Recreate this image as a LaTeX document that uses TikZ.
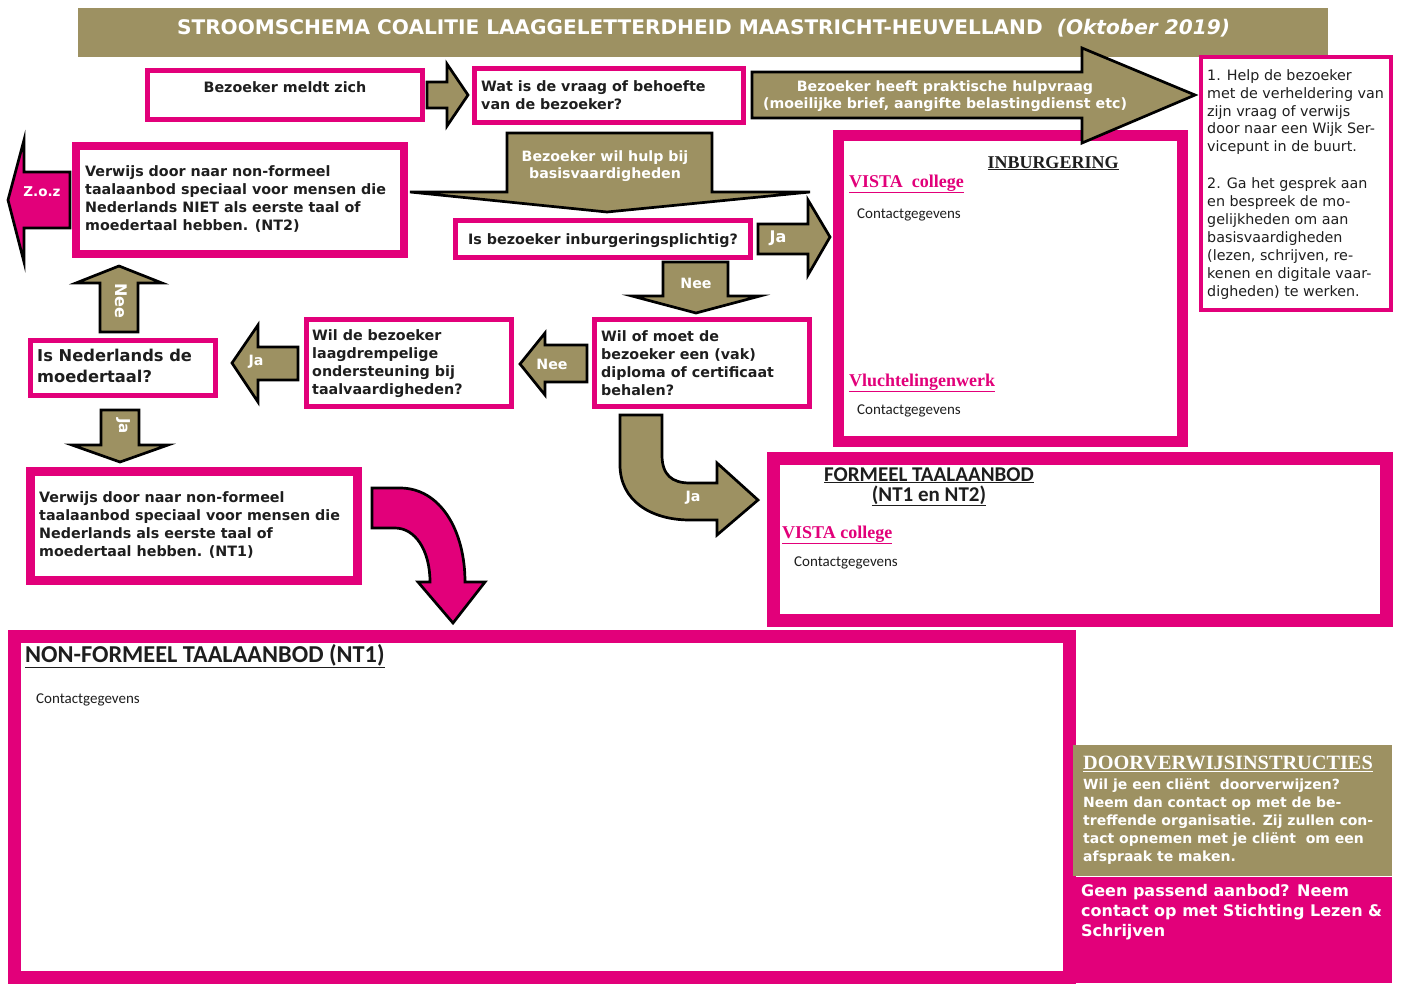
\documentclass[tikz,border=0pt]{standalone}
\usepackage{fontspec}
\setmainfont{DejaVu Sans}
\newfontfamily\calfont{Carlito}
\newfontfamily\serfont{Liberation Serif}
\definecolor{mag}{RGB}{226,0,122}
\definecolor{olv}{RGB}{157,145,98}
\definecolor{ink}{RGB}{30,30,30}
\begin{document}
\begin{tikzpicture}[x=1pt,y=-1pt,
  pbox/.style={draw=mag, fill=white, inner sep=0pt, rectangle},
  oarrow/.style={fill=olv, draw=black, line width=2.7pt},
  marrow/.style={fill=mag, draw=black, line width=2.7pt},
  btxt/.style={inner sep=0pt, align=left, anchor=north west, text=ink, font=\bfseries\fontsize{14.3}{18}\selectfont},
  wtxt/.style={inner sep=0pt, text=white, font=\bfseries\fontsize{14.2}{17.5}\selectfont},
  ctxt/.style={inner sep=0pt, anchor=base west, text=ink, font=\calfont\fontsize{15}{18}\selectfont},
  ltxt/.style={inner sep=0pt, anchor=base west, text=mag, font=\serfont\bfseries\fontsize{18}{20}\selectfont},
]
\fill[white] (0,0) rectangle (1403,983);
\useasboundingbox (0,0) rectangle (1403,983);

% title
\node[fill=olv, minimum width=1250pt, minimum height=49pt, inner sep=0pt] (titlebar) at (703,32.5) {};
\node[inner sep=0pt, anchor=base, text=white, font=\bfseries\fontsize{20.1}{22}\selectfont] (title) at (703.5,34.5) {STROOMSCHEMA COALITIE LAAGGELETTERDHEID MAASTRICHT-HEUVELLAND\hspace{0.7em}\textit{(Oktober 2019)}};

% top row
\node[pbox, line width=5pt, minimum width=275pt, minimum height=49pt] (meldt) at (285,95) {};
\node[btxt, anchor=base] (meldtT) at (285,92) {Bezoeker meldt zich};
\draw[oarrow] (427,82) -- (447,82) -- (447,64) -- (468,95) -- (447,126) -- (447,108) -- (427,108) -- cycle;

\node[pbox, line width=5pt, minimum width=269pt, minimum height=54pt] (vraag) at (609,95.5) {};
\node[btxt] (vraagT) at (481,80.4) {Wat is de vraag of behoefte\\van de bezoeker?};

% right help box
\node[pbox, line width=4pt, minimum width=190pt, minimum height=253pt] (help) at (1296,183.5) {};
\node[inner sep=0pt, anchor=north west, align=left, text=ink, font=\fontsize{14.3}{17.9}\selectfont] (helpT) at (1207,69.2) {1. Help de bezoeker\\met de verheldering van\\zijn vraag of verwijs\\door naar een Wijk Ser-\\vicepunt in de buurt.\\[19pt]2. Ga het gesprek aan\\en bespreek de mo-\\gelijkheden om aan\\basisvaardigheden\\(lezen, schrijven, re-\\kenen en digitale vaar-\\digheden) te werken.};

% INBURGERING box
\node[pbox, line width=11pt, minimum width=344pt, minimum height=306pt] (inburg) at (1010.5,288.5) {};
\node[inner sep=0pt, anchor=base, font=\serfont\bfseries\fontsize{18}{20}\selectfont, text=ink] (inburgT) at (1053,168) {\underline{INBURGERING}};
\node[ltxt] (vista1) at (849,187) {\underline{VISTA\ \ college}};
\node[ctxt] (cg1) at (857,218) {Contactgegevens};
\node[ltxt] (vlucht) at (849,386) {\underline{Vluchtelingenwerk}};
\node[ctxt] (cg2) at (857,414) {Contactgegevens};

% big practical arrow
\draw[oarrow] (752,72) -- (1082,72) -- (1082,48) -- (1195,95) -- (1082,143) -- (1082,118) -- (752,118) -- cycle;
\node[wtxt, align=center, anchor=north] (praktT) at (945,80.2) {Bezoeker heeft praktische hulpvraag\\(moeilijke brief, aangifte belastingdienst etc)};

% NT2 box and Z.o.z
\draw[marrow] (70,172) -- (24,172) -- (24,140) -- (8,200) -- (24,262) -- (24,228) -- (70,228) -- cycle;
\node[wtxt, font=\bfseries\fontsize{13.5}{16}\selectfont] (zoz) at (42,192) {Z.o.z};
\node[pbox, line width=8pt, minimum width=328pt, minimum height=108pt] (nt2) at (240,200) {};
\node[btxt] (nt2T) at (85,165) {Verwijs door naar non-formeel\\taalaanbod speciaal voor mensen die\\Nederlands NIET als eerste taal of\\moedertaal hebben. (NT2)};

% basisvaardigheden arrow
\draw[oarrow] (507,133) -- (712,133) -- (712,192) -- (810,192) -- (607,212) -- (410,192) -- (507,192) -- cycle;
\node[wtxt, align=center, anchor=north] (basisT) at (605,150.2) {Bezoeker wil hulp bij\\basisvaardigheden};

% inburgeringsplichtig
\node[pbox, line width=5pt, minimum width=295pt, minimum height=37pt] (inb) at (603,239) {};
\node[btxt, anchor=base] (inbT) at (603,244) {Is bezoeker inburgeringsplichtig?};
\draw[oarrow] (758,224) -- (808,224) -- (808,200) -- (830,237) -- (808,275) -- (808,254) -- (758,254) -- cycle;
\node[wtxt, anchor=base, font=\bfseries\fontsize{16}{18}\selectfont] (ja1) at (778,242) {Ja};
\draw[oarrow] (663,262) -- (728,262) -- (728,296) -- (760,296) -- (696,313) -- (632,296) -- (663,296) -- cycle;
\node[wtxt, anchor=base] (nee1) at (696,288) {Nee};

% diploma
\node[pbox, line width=5pt, minimum width=215pt, minimum height=87pt] (dipl) at (702,363) {};
\node[btxt] (diplT) at (601,330) {Wil of moet de\\bezoeker een (vak)\\diploma of certificaat\\behalen?};
\draw[oarrow] (587,345) -- (545,345) -- (545,333) -- (520,364) -- (545,395) -- (545,382) -- (587,382) -- cycle;
\node[wtxt, anchor=base] (nee2) at (552,369) {Nee};

% laagdrempelig
\node[pbox, line width=5pt, minimum width=205pt, minimum height=87pt] (laag) at (409,363) {};
\node[btxt] (laagT) at (312,329) {Wil de bezoeker\\laagdrempelige\\ondersteuning bij\\taalvaardigheden?};
\draw[oarrow] (298,347) -- (258,347) -- (258,325) -- (232,363) -- (258,402) -- (258,380) -- (298,380) -- cycle;
\node[wtxt, anchor=base] (ja2) at (256,365) {Ja};

% moedertaal
\node[pbox, line width=5pt, minimum width=185pt, minimum height=55pt] (moed) at (123,368) {};
\node[btxt, font=\bfseries\fontsize{16.3}{21}\selectfont] (moedT) at (37,349.3) {Is Nederlands de\\moedertaal?};
\draw[oarrow] (100,332) -- (100,283) -- (76,283) -- (119,266) -- (162,283) -- (138,283) -- (138,332) -- cycle;
\node[wtxt, rotate=-90, font=\bfseries\fontsize{16}{18}\selectfont] (nee3) at (121,301) {Nee};
\draw[oarrow] (101,410) -- (139,410) -- (139,445) -- (168,445) -- (120,462) -- (72,445) -- (101,445) -- cycle;
\node[wtxt, rotate=-90, font=\bfseries\fontsize{15}{18}\selectfont] (ja3) at (123,426) {Ja};

% NT1
\node[pbox, line width=9pt, minimum width=327pt, minimum height=109pt] (nt1) at (194,526) {};
\node[btxt] (nt1T) at (39,491) {Verwijs door naar non-formeel\\taalaanbod speciaal voor mensen die\\Nederlands als eerste taal of\\moedertaal hebben. (NT1)};

% FORMEEL box
\node[pbox, line width=13pt, minimum width=613pt, minimum height=162pt] (formeel) at (1080,539.5) {};
\node[inner sep=0pt, anchor=base, text=ink, font=\calfont\bfseries\fontsize{21}{24}\selectfont] (formT1) at (929,481) {\underline{FORMEEL TAALAANBOD}};
\node[inner sep=0pt, anchor=base, text=ink, font=\calfont\bfseries\fontsize{21}{24}\selectfont] (formT2) at (929,501) {\underline{(NT1 en NT2)}};
\node[ltxt] (vista2) at (782,538) {\underline{VISTA college}};
\node[ctxt] (cg3) at (794,566) {Contactgegevens};

% curved olive arrow Ja
\draw[oarrow] (620,415) -- (662,415) -- (662,455) .. controls (662,475) and (672,483) .. (690,483) -- (717,483) -- (717,463) -- (758,500) -- (717,535) -- (717,520) -- (690,520) .. controls (650,520) and (620,500) .. (620,465) -- cycle;
\node[wtxt] (ja4) at (693,498) {Ja};

% NON-FORMEEL box
\node[pbox, line width=13pt, minimum width=1055pt, minimum height=341pt] (nonf) at (542,807) {};
\node[inner sep=0pt, anchor=base west, text=ink, font=\calfont\bfseries\fontsize{24.3}{26}\selectfont] (nonfT) at (25,662) {\underline{NON-FORMEEL TAALAANBOD (NT1)}};
\node[ctxt] (cg4) at (36,703) {Contactgegevens};

% curved magenta arrow
\draw[marrow] (372,488) -- (400,488) .. controls (440,488) and (465,530) .. (465,582) -- (485,582) -- (453,623) -- (418,582) -- (430,582) .. controls (430,550) and (415,528) .. (395,528) -- (372,528) -- cycle;

% instructions
\node[fill=olv, inner sep=0pt, minimum width=319pt, minimum height=131pt] (doorv) at (1232.5,810.5) {};
\node[inner sep=0pt, anchor=base west, text=white, font=\serfont\bfseries\fontsize{20.3}{22}\selectfont] (doorvT) at (1083,769) {\underline{DOORVERWIJSINSTRUCTIES}};
\node[inner sep=0pt, anchor=north west, align=left, text=white, font=\bfseries\fontsize{14}{18}\selectfont] (doorvB) at (1083,778.5) {Wil je een cliënt\ \ doorverwijzen?\\Neem dan contact op met de be-\\treffende organisatie. Zij zullen con-\\tact opnemen met je cliënt\ \ om een\\afspraak te maken.};

\node[fill=mag, inner sep=0pt, minimum width=328pt, minimum height=106pt] (geen) at (1228,930) {};
\node[inner sep=0pt, anchor=north west, align=left, text=white, font=\bfseries\fontsize{16}{20}\selectfont] (geenT) at (1081,884.5) {Geen passend aanbod? Neem\\contact op met Stichting Lezen \&\\Schrijven};
\end{tikzpicture}
\end{document}
